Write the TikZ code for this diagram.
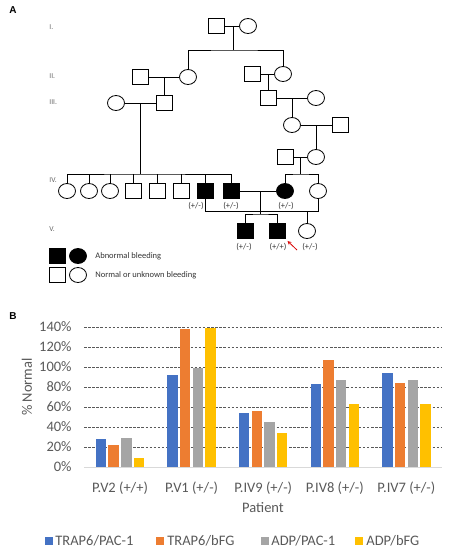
\documentclass[tikz,border=0pt]{standalone}
\usepackage{fontspec}
\setmainfont{Carlito}
\newfontfamily\panelfont{Liberation Sans}
\usepackage{tikz}
\usetikzlibrary{arrows, positioning, shapes.geometric}
\usepackage{xcolor}
\definecolor{barblue}{HTML}{4472C4}
\definecolor{barorange}{HTML}{ED7D31}
\definecolor{bargray}{HTML}{A5A5A5}
\definecolor{baryellow}{HTML}{FFC000}

\begin{document}
\begin{tikzpicture}[x=1pt,y=-1pt,line width=0.8pt,>=stealth]
  \tikzstyle{male}=[draw,rectangle,minimum width=16pt,minimum height=15pt,inner sep=0pt]
  \tikzstyle{female}=[draw,ellipse,minimum width=17pt,minimum height=15pt,inner sep=0pt]
  \tikzstyle{affected}=[fill=black]
  \tikzstyle{geno}=[inner sep=0pt,text=black!80,font=\fontsize{8.5}{9}\selectfont]
  \tikzstyle{gen}=[anchor=west,inner sep=0pt,text=black!60,font=\fontsize{7.5}{8}\selectfont]
  \tikzstyle{panel}=[inner sep=0pt,font=\panelfont\bfseries\fontsize{10}{12}\selectfont]
  \tikzstyle{chart}=[inner sep=0pt,text=black!65,font=\fontsize{14.5}{16}\selectfont]
  \tikzstyle{grid}=[draw=black!65,line width=0.6pt,dash pattern=on 2.5pt off 1.6pt]

  \useasboundingbox (0,0) rectangle (454,550);

  % panel A: pedigree
  \node[panel] (A) at (13,10) {A};
  \node[gen] (gen_I)   at (49,27)  {I.};
  \node[gen] (gen_II)  at (49,76)  {II.};
  \node[gen] (gen_III) at (49,102) {III.};
  \node[gen] (gen_IV)  at (49,180) {IV.};
  \node[gen] (gen_V)   at (49,229) {V.};

  \node[male]   (I_1) at (216,26) {};
  \node[female] (I_2) at (248,26) {};

  \node[male]   (II_1) at (140,77) {};
  \node[female] (II_2) at (188,77) {};
  \node[male]   (II_3) at (252,74) {};
  \node[female] (II_4) at (283,74) {};

  \node[female] (III_1) at (116,103) {};
  \node[male]   (III_2) at (164,103) {};
  \node[male]   (III_3) at (268,98)  {};
  \node[female] (III_4) at (316,98)  {};
  \node[female] (III_5) at (292,125) {};
  \node[male]   (III_6) at (340,125) {};
  \node[male]   (III_7) at (285,157) {};
  \node[female] (III_8) at (316,157) {};

  \node[female] (IV_1) at (67,191)  {};
  \node[female] (IV_2) at (89,191)  {};
  \node[female] (IV_3) at (110,191) {};
  \node[male]   (IV_4) at (133,191) {};
  \node[male]   (IV_5) at (157,191) {};
  \node[male]   (IV_6) at (181,191) {};
  \node[male,affected]   (IV_7) at (205,191) {};
  \node[male,affected]   (IV_8) at (231,191) {};
  \node[female,affected] (IV_9) at (285,191) {};
  \node[female] (IV_10) at (318,191) {};

  \node[male,affected] (V_1) at (245,231) {};
  \node[male,affected] (V_2) at (277,231) {};
  \node[female]        (V_3) at (307,231) {};

  \coordinate (m_I)    at (233,26);
  \coordinate (s_I)    at (233,50);
  \coordinate (m_IIa)  at (164,77);
  \coordinate (m_IIb)  at (268,74);
  \coordinate (m_IIIa) at (140,103);
  \coordinate (s_IVa)  at (140,174);
  \coordinate (m_IIIb) at (292,98);
  \coordinate (m_IIIc) at (316,125);
  \coordinate (m_IIId) at (300,157);
  \coordinate (s_IVb)  at (300,174);
  \coordinate (m_IV)   at (260,191);
  \coordinate (s_V)    at (260,214);
  \coordinate (k_IV)   at (205,211);

  \draw (I_1) -- (I_2);
  \draw (m_I) -- (s_I);
  \draw (II_2) |- (s_I) -| (II_4);

  \draw (II_1) -- (II_2);
  \draw (m_IIa) -- (III_2);
  \draw (II_3) -- (II_4);
  \draw (m_IIb) -- (III_3);

  \draw (III_1) -- (III_2);
  \draw (m_IIIa) -- (s_IVa);
  \draw (IV_1) |- (s_IVa) -| (IV_8);
  \foreach \k in {2,...,7}
    \draw (IV_\k) -- (IV_\k |- s_IVa);

  \draw (III_3) -- (III_4);
  \draw (m_IIIb) -- (III_5);
  \draw (III_5) -- (III_6);
  \draw (m_IIIc) -- (III_8);
  \draw (III_7) -- (III_8);
  \draw (m_IIId) -- (s_IVb);
  \draw (IV_9) |- (s_IVb) -| (IV_10);

  \draw (IV_8) -- (IV_9);
  \draw (m_IV) -- (s_V);
  \draw (V_1) |- (s_V) -| (V_2);

  \draw (IV_7) -- (k_IV) -| (IV_10);
  \draw (V_3) -- (V_3 |- k_IV);

  \node[geno] (g_IV7) at (196,206) {(+/-)};
  \node[geno] (g_IV8) at (231,206) {(+/-)};
  \node[geno] (g_IV9) at (286,206) {(+/-)};
  \node[geno] (g_V1)  at (244,247) {(+/-)};
  \node[geno] (g_V2)  at (278,247) {(+/+)};
  \node[geno] (g_V3)  at (310,247) {(+/-)};

  \coordinate (proband) at (297,250);
  \draw[->,red!85!black] (proband) -- (V_2) [shorten >=3pt];

  % legend
  \node[male,affected]   (key_m1) at (57,256) {};
  \node[female,affected] (key_f1) at (78,256) {};
  \node[male]   (key_m2) at (57,275) {};
  \node[female] (key_f2) at (78,275) {};
  \node[geno,anchor=west] (key_t1) at (95,256) {Abnormal bleeding};
  \node[geno,anchor=west] (key_t2) at (95,275) {Normal or unknown bleeding};

  % panel B: bar chart
  \node[panel] (B) at (13,316) {B};

  \foreach \v in {20,40,...,140}
    \draw[grid] (84,{467-\v}) -- (442,{467-\v});
  \draw[black!15,line width=0.8pt] (84,467) -- (442,467);
  \foreach \v in {0,20,...,140}
    \node[chart,anchor=east] (tick_\v) at (72,{467-\v}) {\v\%};

  \foreach \a/\b/\c/\d [count=\i from 0] in
      {28/22/29/9, 92/138/99/139, 54/56/45/34, 83/107/87/63, 94/84/87/63}
  {
    \pgfmathsetmacro\cx{120+71.6*\i}
    \fill[barblue]   ({\cx-24.25},467) rectangle ({\cx-13.85},{467-\a});
    \fill[barorange] ({\cx-11.55},467) rectangle ({\cx-1.15},{467-\b});
    \fill[bargray]   ({\cx+1.15},467)  rectangle ({\cx+11.55},{467-\c});
    \fill[baryellow] ({\cx+13.85},467) rectangle ({\cx+24.25},{467-\d});
  }

  \foreach \p/\g [count=\i from 0] in {V2/+, V1/-, IV9/-, IV8/-, IV7/-}
    \node[chart] (cat_\i) at ({120+71.6*\i},488) {P.\p\ (+/\g)};

  \node[chart] (xlabel) at (263,508) {Patient};
  \node[chart,rotate=90] (ylabel) at (27,387) {\% Normal};

  \fill[barblue]   (44.5,537) rectangle (52.5,545);
  \node[chart,anchor=west] (leg_1) at (55,541) {TRAP6/PAC-1};
  \fill[barorange] (156,537) rectangle (164,545);
  \node[chart,anchor=west] (leg_2) at (167,541) {TRAP6/bFG};
  \fill[bargray]   (261,537) rectangle (269,545);
  \node[chart,anchor=west] (leg_3) at (271,541) {ADP/PAC-1};
  \fill[baryellow] (355,537) rectangle (363,545);
  \node[chart,anchor=west] (leg_4) at (366,541) {ADP/bFG};
\end{tikzpicture}
\end{document}
